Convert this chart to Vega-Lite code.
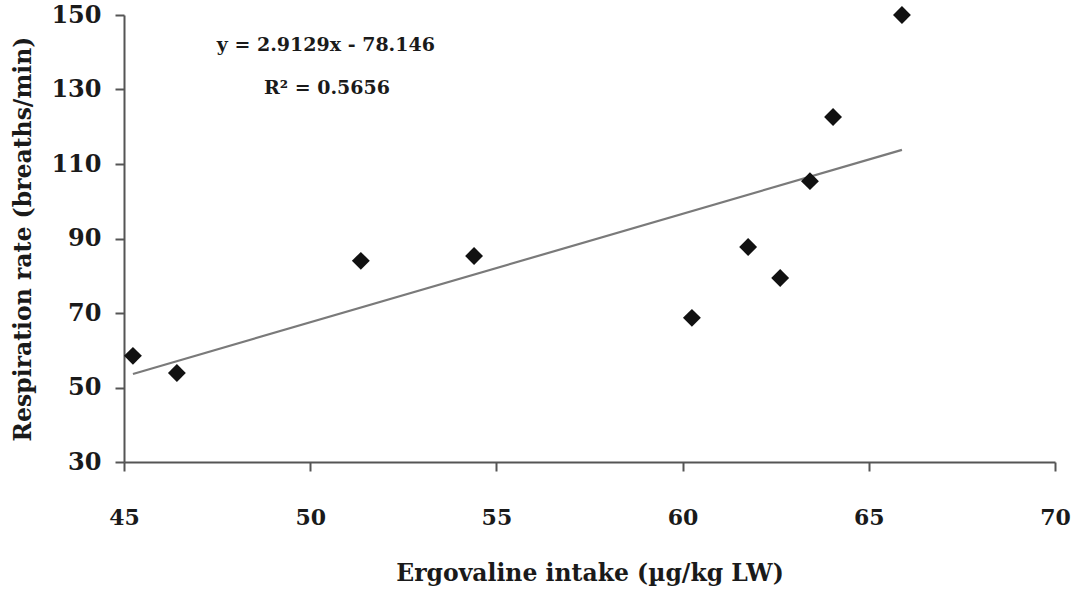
{
  "$schema": "https://vega.github.io/schema/vega-lite/v6.json",
  "width": 931,
  "height": 447,
  "autosize": {"type": "none"},
  "padding": {"left": 124, "top": 15, "right": 19, "bottom": 130},
  "background": "white",
  "config": {"view": {"stroke": null}, "font": "DejaVu Serif"},
  "datasets": {
    "points": [
      {"intake": 45.24, "rate": 58.5},
      {"intake": 46.42, "rate": 53.9},
      {"intake": 51.36, "rate": 84.0},
      {"intake": 54.40, "rate": 85.3},
      {"intake": 60.25, "rate": 68.7},
      {"intake": 61.76, "rate": 87.7},
      {"intake": 62.62, "rate": 79.4},
      {"intake": 63.42, "rate": 105.4},
      {"intake": 64.04, "rate": 122.6},
      {"intake": 65.89, "rate": 150.0}
    ],
    "trend": [
      {"intake": 45.24, "rate": 53.63},
      {"intake": 65.89, "rate": 113.79}
    ],
    "labels": [
      {"intake": 50.42, "rate": 141.9, "text": "y = 2.9129x - 78.146"},
      {"intake": 50.45, "rate": 130.4, "text": "R² = 0.5656"}
    ]
  },
  "layer": [
    {
      "data": {"name": "trend"},
      "mark": {"type": "line", "color": "#7a7a7a", "strokeWidth": 2.2},
      "encoding": {
        "x": {
          "field": "intake", "type": "quantitative",
          "scale": {"domain": [45, 70], "nice": false, "zero": false},
          "axis": {
            "title": "Ergovaline intake (µg/kg LW)",
            "values": [45, 50, 55, 60, 65, 70],
            "grid": false,
            "domainColor": "#555", "domainWidth": 2,
            "tickColor": "#555", "tickWidth": 2, "tickSize": 9,
            "labelFont": "DejaVu Serif", "labelFontWeight": "bold", "labelFontSize": 22,
            "labelColor": "#1a1a1a", "labelPadding": 36, "labelFlush": false,
            "titleFont": "DejaVu Serif", "titleFontWeight": "bold", "titleFontSize": 23.5,
            "titleColor": "#1a1a1a", "titlePadding": 33
          }
        },
        "y": {
          "field": "rate", "type": "quantitative",
          "scale": {"domain": [30, 150], "nice": false, "zero": false},
          "axis": {
            "title": "Respiration rate (breaths/min)",
            "values": [30, 50, 70, 90, 110, 130, 150],
            "grid": false,
            "domainColor": "#555", "domainWidth": 2,
            "tickColor": "#555", "tickWidth": 2, "tickSize": 9,
            "labelFont": "DejaVu Serif", "labelFontWeight": "bold", "labelFontSize": 24,
            "labelColor": "#1a1a1a", "labelPadding": 14, "labelFlush": false,
            "titleFont": "DejaVu Serif", "titleFontWeight": "bold", "titleFontSize": 23.5,
            "titleColor": "#1a1a1a", "titlePadding": 15
          }
        }
      }
    },
    {
      "data": {"name": "points"},
      "mark": {"type": "point", "shape": "diamond", "filled": true, "color": "#111", "size": 320, "opacity": 1},
      "encoding": {
        "x": {"field": "intake", "type": "quantitative"},
        "y": {"field": "rate", "type": "quantitative"}
      }
    },
    {
      "data": {"name": "labels"},
      "mark": {"type": "text", "font": "DejaVu Serif", "fontWeight": "bold", "fontSize": 19, "color": "#1a1a1a", "align": "center", "baseline": "middle"},
      "encoding": {
        "x": {"field": "intake", "type": "quantitative"},
        "y": {"field": "rate", "type": "quantitative"},
        "text": {"field": "text"}
      }
    }
  ]
}
